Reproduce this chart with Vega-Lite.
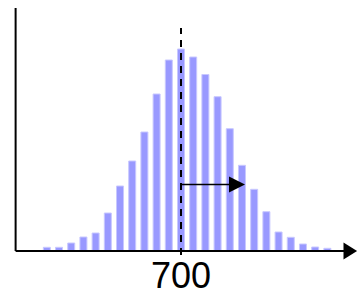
{
  "$schema": "https://vega.github.io/schema/vega-lite/v6.json",
  "width": 362,
  "height": 296,
  "padding": 0,
  "autosize": {"type": "none"},
  "background": "white",
  "config": {"view": {"stroke": null}},
  "layer": [
    {
      "data": {"values": [
        {"value": 590, "count": 3.7},
        {"value": 600, "count": 3.7},
        {"value": 610, "count": 8},
        {"value": 620, "count": 14},
        {"value": 630, "count": 18},
        {"value": 640, "count": 38},
        {"value": 650, "count": 65},
        {"value": 660, "count": 90},
        {"value": 670, "count": 119},
        {"value": 680, "count": 157},
        {"value": 690, "count": 191},
        {"value": 700, "count": 202},
        {"value": 710, "count": 194},
        {"value": 720, "count": 176.5},
        {"value": 730, "count": 154.3},
        {"value": 740, "count": 122.3},
        {"value": 750, "count": 85.7},
        {"value": 760, "count": 61.7},
        {"value": 770, "count": 39.3},
        {"value": 780, "count": 19},
        {"value": 790, "count": 13.7},
        {"value": 800, "count": 7},
        {"value": 810, "count": 4},
        {"value": 820, "count": 2.7}
      ]},
      "mark": {"type": "bar", "size": 7, "color": "#9999FF", "stroke": "#C8C8FF", "strokeWidth": 1},
      "encoding": {
        "x": {"field": "value", "type": "quantitative", "axis": null, "scale": {"domain": [555.7, 844.3], "nice": false, "zero": false}},
        "y": {"field": "count", "type": "quantitative", "axis": null, "scale": {"domain": [-45, 251], "nice": false, "zero": false}}
      }
    },
    {
      "data": {"values": [{"x": 700, "y": -4, "y2": 223}]},
      "mark": {"type": "rule", "color": "black", "strokeWidth": 2, "strokeDash": [7, 6]},
      "encoding": {
        "x": {"field": "x", "type": "quantitative", "axis": null, "scale": {"domain": [555.7, 844.3], "nice": false, "zero": false}},
        "y": {"field": "y", "type": "quantitative", "axis": null, "scale": {"domain": [-45, 251], "nice": false, "zero": false}},
        "y2": {"field": "y2"}
      }
    },
    {
      "data": {"values": [
        {"x": 564.4, "x2": 564.4, "y": 0, "y2": 243},
        {"x": 564.4, "x2": 834, "y": 0, "y2": 0}
      ]},
      "mark": {"type": "rule", "color": "black", "strokeWidth": 2},
      "encoding": {
        "x": {"field": "x", "type": "quantitative", "axis": null, "scale": {"domain": [555.7, 844.3], "nice": false, "zero": false}},
        "x2": {"field": "x2"},
        "y": {"field": "y", "type": "quantitative", "axis": null, "scale": {"domain": [-45, 251], "nice": false, "zero": false}},
        "y2": {"field": "y2"}
      }
    },
    {
      "data": {"values": [{"x": 700, "x2": 740, "y": 66.5, "y2": 66.5}]},
      "mark": {"type": "rule", "color": "black", "strokeWidth": 1.5},
      "encoding": {
        "x": {"field": "x", "type": "quantitative", "axis": null, "scale": {"domain": [555.7, 844.3], "nice": false, "zero": false}},
        "x2": {"field": "x2"},
        "y": {"field": "y", "type": "quantitative", "axis": null, "scale": {"domain": [-45, 251], "nice": false, "zero": false}},
        "y2": {"field": "y2"}
      }
    },
    {
      "data": {"values": [{"x": 838.8, "y": 0}]},
      "mark": {"type": "point", "filled": true, "color": "black", "opacity": 1, "shape": "M-0.8,-1L0.8,0L-0.8,1Z", "size": 289, "strokeWidth": 0},
      "encoding": {
        "x": {"field": "x", "type": "quantitative", "axis": null, "scale": {"domain": [555.7, 844.3], "nice": false, "zero": false}},
        "y": {"field": "y", "type": "quantitative", "axis": null, "scale": {"domain": [-45, 251], "nice": false, "zero": false}}
      }
    },
    {
      "data": {"values": [{"x": 745.9, "y": 66.5}]},
      "mark": {"type": "point", "filled": true, "color": "black", "opacity": 1, "shape": "M-1,-1L1,0L-1,1Z", "size": 256, "strokeWidth": 0},
      "encoding": {
        "x": {"field": "x", "type": "quantitative", "axis": null, "scale": {"domain": [555.7, 844.3], "nice": false, "zero": false}},
        "y": {"field": "y", "type": "quantitative", "axis": null, "scale": {"domain": [-45, 251], "nice": false, "zero": false}}
      }
    },
    {
      "data": {"values": [{"x": 700, "y": -37, "label": "700"}]},
      "mark": {"type": "text", "font": "Liberation Sans", "fontSize": 36, "color": "black", "baseline": "alphabetic", "align": "center"},
      "encoding": {
        "x": {"field": "x", "type": "quantitative", "axis": null, "scale": {"domain": [555.7, 844.3], "nice": false, "zero": false}},
        "y": {"field": "y", "type": "quantitative", "axis": null, "scale": {"domain": [-45, 251], "nice": false, "zero": false}},
        "text": {"field": "label"}
      }
    }
  ]
}
